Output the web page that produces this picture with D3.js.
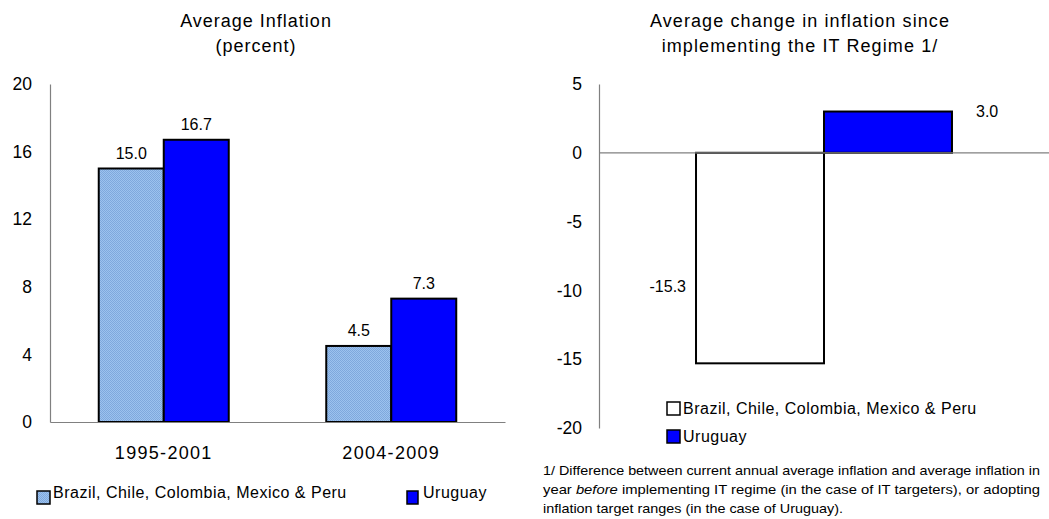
<!DOCTYPE html>
<html>
<head>
<meta charset="utf-8">
<script src="https://cdn.jsdelivr.net/npm/d3@7"></script>
<style>
  body { margin: 0; background: #fff; }
  text { font-family: "Liberation Sans", Arial, sans-serif; fill: #000; }
</style>
</head>
<body>
<svg id="chart" width="1049" height="519"></svg>
<script>
// data
var periods = ["1995-2001", "2004-2009"];
var seriesNames = ["Brazil, Chile, Colombia, Mexico & Peru", "Uruguay"];
var groupValues = [15.0, 4.5];
var uruguayValues = [16.7, 7.3];
var leftTicks = [0, 4, 8, 12, 16, 20];

var changeValues = [-15.3, 3.0];
var rightTicks = [-20, -15, -10, -5, 0, 5];

var footnote = [
  "1/ Difference between current annual average inflation and average inflation in",
  "year |before| implementing IT regime (in the case of IT targeters), or adopting",
  "inflation target ranges (in the case of Uruguay)."
];
var footWidths = [497, 497, 300];

var svg = d3.select("#chart");
var FONT = "Liberation Sans, Arial, sans-serif";

// fine dither pattern for the light blue bars
var defs = svg.append("defs");
var pat = defs.append("pattern")
  .attr("id", "dither")
  .attr("width", 2).attr("height", 2)
  .attr("patternUnits", "userSpaceOnUse");
pat.append("rect").attr("width", 2).attr("height", 2).attr("fill", "#9cc2ee");
pat.append("rect").attr("width", 1).attr("height", 1).attr("fill", "#7fa8dc");
pat.append("rect").attr("x", 1).attr("y", 1).attr("width", 1).attr("height", 1).attr("fill", "#7fa8dc");

var fills = ["url(#dither)", "#0000ff"];

// ---------- left chart ----------
var left = { x0: 50, x1: 505, top: 84, bottom: 422 };

var x0 = d3.scaleBand().domain(periods).range([left.x0, left.x1]).paddingInner(0).paddingOuter(0);
var x1 = d3.scaleBand().domain(d3.range(2)).range([0, x0.bandwidth()]).paddingOuter(0.75).paddingInner(0);
var yL = d3.scaleLinear().domain([0, 20]).range([left.bottom, left.top]);

svg.append("g")
  .attr("transform", "translate(256,0)")
  .selectAll("text")
  .data(["Average Inflation", "(percent)"])
  .join("text")
  .attr("text-anchor", "middle")
  .attr("y", (d, i) => 27 + i * 25)
  .attr("font-size", 18)
  .attr("letter-spacing", 1)
  .text(d => d);

var yAxisL = svg.append("g")
  .attr("transform", `translate(${left.x0},0)`)
  .call(d3.axisLeft(yL).tickValues(leftTicks).tickSize(0).tickPadding(18).tickFormat(d => String(d)));
yAxisL.select(".domain").attr("stroke", "#808080").attr("stroke-width", 1.2);
yAxisL.selectAll("text").attr("font-size", 17.5).attr("font-family", FONT);

var leftData = [];
periods.forEach(function(p, i) {
  leftData.push({ period: p, s: 0, v: groupValues[i] });
  leftData.push({ period: p, s: 1, v: uruguayValues[i] });
});

svg.append("g").selectAll("rect")
  .data(leftData)
  .join("rect")
  .attr("x", d => x0(d.period) + x1(d.s))
  .attr("y", d => yL(d.v))
  .attr("width", x1.bandwidth())
  .attr("height", d => yL(0) - yL(d.v))
  .attr("fill", d => fills[d.s])
  .attr("stroke", "#000")
  .attr("stroke-width", 2);

svg.append("g").selectAll("text")
  .data(leftData)
  .join("text")
  .attr("x", d => x0(d.period) + x1(d.s) + x1.bandwidth() / 2)
  .attr("y", d => yL(d.v) - 10)
  .attr("text-anchor", "middle")
  .attr("font-size", 16)
  .text(d => d.v.toFixed(1));

var xAxisL = svg.append("g")
  .attr("transform", `translate(0,${left.bottom})`)
  .call(d3.axisBottom(x0).tickSize(0).tickPadding(24));
xAxisL.select(".domain").attr("stroke", "#808080").attr("stroke-width", 1.2);
xAxisL.selectAll("text").attr("font-size", 18).attr("letter-spacing", 1.3)
  .attr("font-family", FONT);

// left legend
var legL = svg.append("g").selectAll("g")
  .data(seriesNames)
  .join("g")
  .attr("transform", (d, i) => `translate(${i === 0 ? 37 : 407},491)`);
legL.append("rect")
  .attr("width", (d, i) => i === 0 ? 13 : 11).attr("height", 13)
  .attr("fill", (d, i) => fills[i])
  .attr("stroke", "#000").attr("stroke-width", 1.5);
legL.append("text")
  .attr("x", 16).attr("y", 7)
  .attr("font-size", 16)
  .attr("letter-spacing", 0.5)
  .text(d => d);

// ---------- right chart ----------
var right = { x0: 599, x1: 1049, top: 84, bottom: 428 };
var xR = d3.scaleBand().domain(d3.range(2)).range([right.x0, right.x1]).paddingOuter(0.758).paddingInner(0);
var yR = d3.scaleLinear().domain([-20, 5]).range([right.bottom, right.top]);
var fillsR = ["#fff", "#0000ff"];

svg.append("g")
  .attr("transform", "translate(800,0)")
  .selectAll("text")
  .data(["Average change in inflation since", "implementing the IT Regime 1/"])
  .join("text")
  .attr("text-anchor", "middle")
  .attr("y", (d, i) => 27 + i * 25)
  .attr("font-size", 18)
  .attr("letter-spacing", 1.1)
  .text(d => d);

var yAxisR = svg.append("g")
  .attr("transform", `translate(${right.x0},0)`)
  .call(d3.axisLeft(yR).tickValues(rightTicks).tickSize(0).tickPadding(17).tickFormat(d => String(d)));
yAxisR.select(".domain").attr("stroke", "#808080").attr("stroke-width", 1.2);
yAxisR.selectAll("text").attr("font-size", 17.5).attr("font-family", FONT);

svg.append("g").selectAll("rect")
  .data(changeValues)
  .join("rect")
  .attr("x", (d, i) => xR(i))
  .attr("y", d => yR(Math.max(0, d)))
  .attr("width", xR.bandwidth())
  .attr("height", d => Math.abs(yR(d) - yR(0)))
  .attr("fill", (d, i) => fillsR[i])
  .attr("stroke", "#000")
  .attr("stroke-width", 2);

svg.append("line")
  .attr("x1", right.x0).attr("x2", right.x1)
  .attr("y1", yR(0)).attr("y2", yR(0))
  .attr("stroke", "#808080").attr("stroke-width", 1.2);

// value labels sit beside the bars
svg.append("g").selectAll("text")
  .data(changeValues)
  .join("text")
  .attr("x", (d, i) => i === 0 ? xR(i) - 10 : xR(i) + xR.bandwidth() + 24)
  .attr("y", (d, i) => i === 0 ? yR(d) - 71 : yR(d) + 5)
  .attr("text-anchor", (d, i) => i === 0 ? "end" : "start")
  .attr("font-size", 16)
  .text(d => d.toFixed(1));

// right legend
var legR = svg.append("g").selectAll("g")
  .data(seriesNames)
  .join("g")
  .attr("transform", (d, i) => `translate(667,${402 + i * 28})`);
legR.append("rect")
  .attr("width", 13).attr("height", 13)
  .attr("fill", (d, i) => fillsR[i])
  .attr("stroke", "#000").attr("stroke-width", 1.5);
legR.append("text")
  .attr("x", 16).attr("y", 12)
  .attr("font-size", 16)
  .attr("letter-spacing", 0.5)
  .text(d => d);

// footnote, with the italic word marked by pipes
var foot = svg.append("g").selectAll("text")
  .data(footnote)
  .join("text")
  .attr("x", 543)
  .attr("y", (d, i) => 475 + i * 19)
  .attr("font-size", 13)
  .attr("textLength", (d, i) => footWidths[i])
  .attr("lengthAdjust", "spacingAndGlyphs");
foot.each(function(line) {
  var t = d3.select(this);
  line.split("|").forEach(function(part, j) {
    t.append("tspan").attr("font-style", j % 2 ? "italic" : "normal").text(part);
  });
});
</script>
</body>
</html>
